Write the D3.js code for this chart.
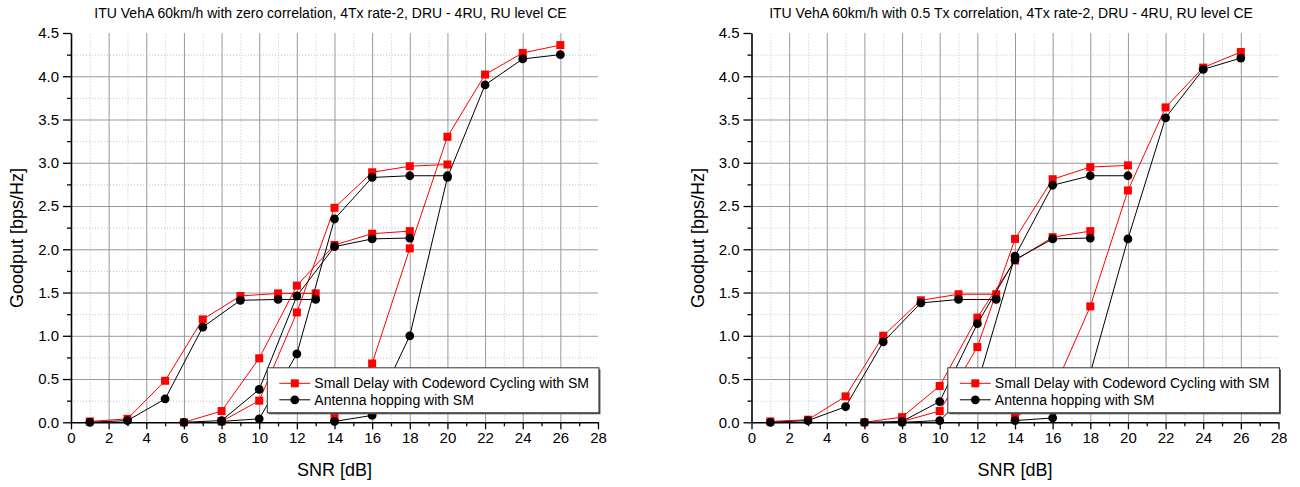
<!DOCTYPE html>
<html>
<head>
<meta charset="utf-8">
<script src="https://cdn.jsdelivr.net/npm/d3@7"></script>
<style>
  body { margin: 0; background: #ffffff; }
  text { font-family: "Liberation Sans", Arial, sans-serif; }
</style>
</head>
<body>
<div id="chart"></div>
<script>
// SNR points of the four link curves (each curve is 7 points)
const snrA = [1, 3, 5, 7, 9, 11, 13];
const snrB = [6, 8, 10, 12, 14, 16, 18];
const snrC = [8, 10, 12, 14, 16, 18, 20];
const snrD = [14, 16, 18, 20, 22, 24, 26];

// left panel: zero correlation
const sdccZeroA = [0.01, 0.04, 0.48, 1.19, 1.46, 1.49, 1.49];
const sdccZeroB = [0.00, 0.13, 0.74, 1.58, 2.05, 2.18, 2.21];
const sdccZeroC = [0.01, 0.25, 1.27, 2.48, 2.89, 2.96, 2.98];
const sdccZeroD = [0.06, 0.68, 2.01, 3.30, 4.02, 4.27, 4.36];
const ahZeroA = [0.00, 0.02, 0.27, 1.10, 1.41, 1.42, 1.42];
const ahZeroB = [0.00, 0.02, 0.38, 1.46, 2.03, 2.12, 2.13];
const ahZeroC = [0.01, 0.04, 0.79, 2.35, 2.83, 2.85, 2.85];
const ahZeroD = [0.01, 0.08, 1.00, 2.83, 3.90, 4.20, 4.25];

// right panel: 0.5 Tx correlation
const sdccHalfA = [0.01, 0.03, 0.30, 1.00, 1.41, 1.48, 1.48];
const sdccHalfB = [0.00, 0.06, 0.42, 1.21, 1.87, 2.14, 2.21];
const sdccHalfC = [0.01, 0.13, 0.87, 2.12, 2.81, 2.95, 2.97];
const sdccHalfD = [0.05, 0.35, 1.34, 2.68, 3.64, 4.10, 4.28];
const ahHalfA = [0.00, 0.02, 0.18, 0.93, 1.38, 1.42, 1.42];
const ahHalfB = [0.00, 0.01, 0.24, 1.14, 1.88, 2.12, 2.13];
const ahHalfC = [0.00, 0.02, 0.44, 1.92, 2.74, 2.85, 2.85];
const ahHalfD = [0.02, 0.05, 0.57, 2.12, 3.52, 4.08, 4.21];

const seriesNames = ["Small Delay with Codeword Cycling with SM", "Antenna hopping with SM"];
const titles = [
    "ITU VehA 60km/h with zero correlation, 4Tx rate-2, DRU - 4RU, RU level CE",
    "ITU VehA 60km/h with 0.5 Tx correlation, 4Tx rate-2, DRU - 4RU, RU level CE"
];
const xMajorTicks = d3.range(0, 29, 2);
const xMinorTicks = d3.range(1, 28, 2);
const yMajorTicks = d3.range(0, 4.51, 0.5);
const yMinorTicks = d3.range(0.25, 4.5, 0.5);

const svg = d3.select("#chart").append("svg")
    .attr("width", 1300)
    .attr("height", 487);

// turn two value arrays into point objects
const pts = (xs, ys) => xs.map((x, i) => ({ x: x, y: ys[i] }));

function drawPanel(left, title, redCurves, blackCurves) {
    const width = 527, height = 389.3, top = 33;

    const g = svg.append("g").attr("transform", `translate(${left},${top})`);

    const xScale = d3.scaleLinear().domain([0, 28]).range([0, width]);
    const yScale = d3.scaleLinear().domain([0, 4.5]).range([height, 0]);

    // grid lines (minor dotted, major solid)
    g.append("g")
        .attr("transform", `translate(0,${height})`)
        .call(d3.axisBottom(xScale).tickValues(xMinorTicks).tickSize(-height).tickFormat(""))
        .call(a => a.select(".domain").remove())
        .call(a => a.selectAll("line").attr("stroke", "#c4c4c4").attr("stroke-dasharray", "1,2"));
    g.append("g")
        .call(d3.axisLeft(yScale).tickValues(yMinorTicks).tickSize(-width).tickFormat(""))
        .call(a => a.select(".domain").remove())
        .call(a => a.selectAll("line").attr("stroke", "#c4c4c4").attr("stroke-dasharray", "1,2"));
    g.append("g")
        .attr("transform", `translate(0,${height})`)
        .call(d3.axisBottom(xScale).tickValues(xMajorTicks.slice(1, -1)).tickSize(-height).tickFormat(""))
        .call(a => a.select(".domain").remove())
        .call(a => a.selectAll("line").attr("stroke", "#999999"));
    g.append("g")
        .call(d3.axisLeft(yScale).tickValues(yMajorTicks.slice(1, -1)).tickSize(-width).tickFormat(""))
        .call(a => a.select(".domain").remove())
        .call(a => a.selectAll("line").attr("stroke", "#999999"));

    const line = d3.line().x(d => xScale(d.x)).y(d => yScale(d.y));

    // red series: lines + squares
    redCurves.forEach(c => {
        g.append("path").datum(c).attr("d", line)
            .attr("fill", "none").attr("stroke", "#ff0000").attr("stroke-width", 1);
    });
    redCurves.forEach(c => {
        g.selectAll(null).data(c).enter().append("rect")
            .attr("x", d => xScale(d.x) - 4).attr("y", d => yScale(d.y) - 4)
            .attr("width", 8).attr("height", 8)
            .attr("fill", "#ff0000");
    });

    // black series: lines + circles
    blackCurves.forEach(c => {
        g.append("path").datum(c).attr("d", line)
            .attr("fill", "none").attr("stroke", "#000000").attr("stroke-width", 1);
    });
    blackCurves.forEach(c => {
        g.selectAll(null).data(c).enter().append("circle")
            .attr("cx", d => xScale(d.x)).attr("cy", d => yScale(d.y))
            .attr("r", 4.4)
            .attr("fill", "#000000");
    });

    // axes
    g.append("g")
        .attr("transform", `translate(0,${height})`)
        .call(d3.axisBottom(xScale).tickValues(xMinorTicks).tickSize(4).tickFormat(""))
        .call(a => a.select(".domain").remove())
        .call(a => a.selectAll("line").attr("stroke-width", 1.3));
    g.append("g")
        .attr("transform", `translate(0,${height})`)
        .call(d3.axisBottom(xScale).tickValues(xMajorTicks).tickSizeInner(7).tickSizeOuter(0).tickPadding(3))
        .call(a => a.select(".domain").attr("stroke-width", 1.6))
        .call(a => a.selectAll("line").attr("stroke-width", 1.3))
        .call(a => a.selectAll("text").attr("font-size", 15).attr("fill", "#000"));
    g.append("g")
        .call(d3.axisLeft(yScale).tickValues(yMinorTicks).tickSize(4).tickFormat(""))
        .call(a => a.select(".domain").remove())
        .call(a => a.selectAll("line").attr("stroke-width", 1.3));
    g.append("g")
        .call(d3.axisLeft(yScale).tickValues(yMajorTicks).tickSizeInner(8).tickSizeOuter(0).tickPadding(4)
            .tickFormat(d3.format(".1f")))
        .call(a => a.select(".domain").attr("stroke-width", 1.6))
        .call(a => a.selectAll("line").attr("stroke-width", 1.3))
        .call(a => a.selectAll("text").attr("font-size", 15).attr("fill", "#000"));

    // title and axis labels
    svg.append("text")
        .attr("x", left + width / 2 - 4).attr("y", 18)
        .attr("text-anchor", "middle").attr("font-size", 14)
        .text(title);
    svg.append("text")
        .attr("x", left + width / 2).attr("y", 476)
        .attr("text-anchor", "middle").attr("font-size", 18)
        .text("SNR [dB]");
    svg.append("text")
        .attr("transform", `translate(${left - 48},238) rotate(-90)`)
        .attr("text-anchor", "middle").attr("font-size", 18)
        .text("Goodput [bps/Hz]");

    // legend box with a small shadow
    const lx = xScale(10.43), ly = yScale(0.63);
    const lw = xScale(28.05) - lx, lh = yScale(0.11) - ly;
    const legend = g.append("g").attr("transform", `translate(${lx},${ly})`);
    legend.append("rect").attr("x", 1.5).attr("y", 1.5).attr("width", lw).attr("height", lh).attr("fill", "#555");
    legend.append("rect").attr("width", lw).attr("height", lh)
        .attr("fill", "#ffffff").attr("stroke", "#333").attr("stroke-width", 1);

    seriesNames.forEach((name, i) => {
        const cy = 15.5 + i * 16.5;
        const col = i === 0 ? "#ff0000" : "#000000";
        legend.append("line").attr("x1", 12).attr("x2", 43).attr("y1", cy).attr("y2", cy)
            .attr("stroke", col).attr("stroke-width", 1);
        if (i === 0) {
            legend.append("rect").attr("x", 27.5 - 4).attr("y", cy - 4).attr("width", 8).attr("height", 8).attr("fill", col);
        } else {
            legend.append("circle").attr("cx", 27.5).attr("cy", cy).attr("r", 4.4).attr("fill", col);
        }
        legend.append("text").attr("x", 47).attr("y", cy + 5)
            .attr("font-size", 14).text(name);
    });
}

drawPanel(71, titles[0],
    [pts(snrA, sdccZeroA), pts(snrB, sdccZeroB), pts(snrC, sdccZeroC), pts(snrD, sdccZeroD)],
    [pts(snrA, ahZeroA), pts(snrB, ahZeroB), pts(snrC, ahZeroC), pts(snrD, ahZeroD)]);

drawPanel(751.5, titles[1],
    [pts(snrA, sdccHalfA), pts(snrB, sdccHalfB), pts(snrC, sdccHalfC), pts(snrD, sdccHalfD)],
    [pts(snrA, ahHalfA), pts(snrB, ahHalfB), pts(snrC, ahHalfC), pts(snrD, ahHalfD)]);
</script>
</body>
</html>
